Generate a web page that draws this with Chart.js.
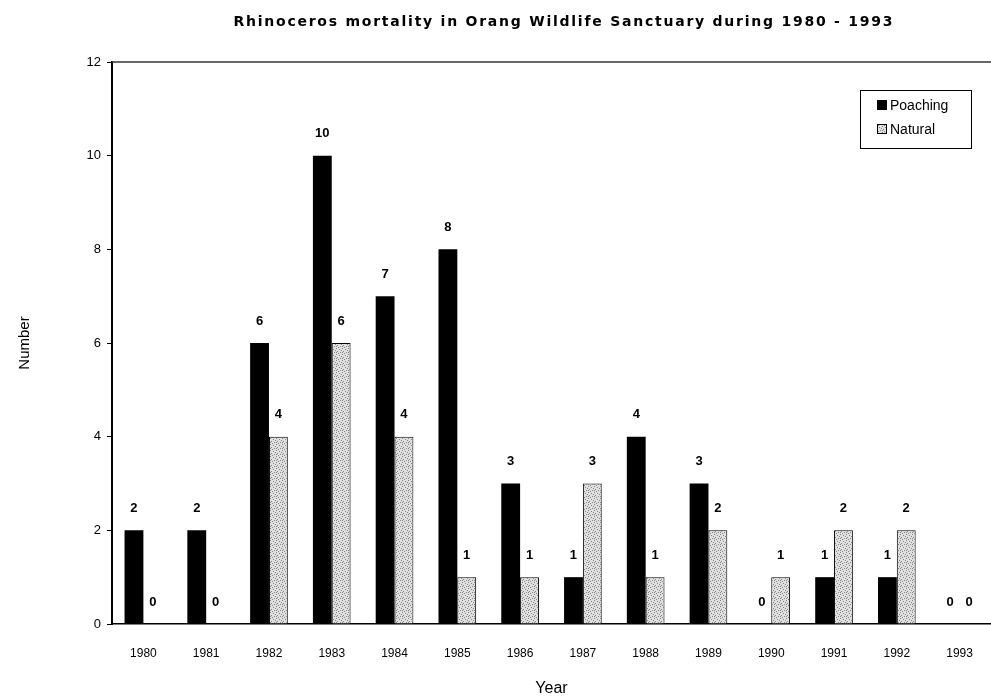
<!DOCTYPE html>
<html>
<head>
<meta charset="utf-8">
<title>Rhinoceros mortality</title>
<script src="https://cdn.jsdelivr.net/npm/chart.js@4.4.1/dist/chart.umd.min.js"></script>
<style>
  html, body { margin: 0; padding: 0; background: #fff; }
  #wrap { width: 991px; height: 700px; }
</style>
</head>
<body>
<div id="wrap"><canvas id="mortalityChart" width="991" height="700"></canvas></div>
<script>
  // ── Data ────────────────────────────────────────────────────────────────
  const years    = ['1980', '1981', '1982', '1983', '1984', '1985', '1986',
                    '1987', '1988', '1989', '1990', '1991', '1992', '1993'];
  const poaching = [2, 2, 6, 10, 7, 8, 3, 1, 4, 3, 0, 1, 1, 0];
  const natural  = [0, 0, 4, 6, 4, 1, 1, 3, 1, 2, 1, 2, 2, 0];
  const yTicks   = [0, 2, 4, 6, 8, 10, 12];

  const TITLE = 'Rhinoceros mortality in Orang Wildlife Sanctuary during 1980 - 1993';
  const FONT  = "'Liberation Sans', Arial, sans-serif";
  const TITLE_FONT = "'DejaVu Sans', Verdana, sans-serif";

  // stippled light grey fill for the natural bars
  function makeStipple() {
    const p = document.createElement('canvas');
    p.width = 6; p.height = 6;
    const g = p.getContext('2d');
    g.fillStyle = '#e0e0e0';
    g.fillRect(0, 0, 6, 6);
    g.fillStyle = '#858585';
    [[0, 0], [3, 1], [1, 3], [4, 4], [5, 2], [2, 5], [0, 4]].forEach(([x, y]) => g.fillRect(x, y, 1, 1));
    return g.createPattern(p, 'repeat');
  }
  const stipple = makeStipple();

  // ── Plugins: title, frame line, value labels, legend box ───────────────
  const decorations = {
    id: 'decorations',
    afterDraw(chart) {
      const ctx = chart.ctx;
      const area = chart.chartArea;
      ctx.save();

      // title, spaced out to span 232..893
      ctx.fillStyle = '#000';
      ctx.font = `bold 14px ${TITLE_FONT}`;
      ctx.textAlign = 'center';
      ctx.textBaseline = 'middle';
      const plain = ctx.measureText(TITLE).width;
      const spacing = Math.max(0, (661 - plain) / TITLE.length);
      ctx.letterSpacing = spacing.toFixed(2) + 'px';
      ctx.fillText(TITLE, 563 + spacing / 2, 22);
      ctx.letterSpacing = '0px';

      // top frame line
      ctx.strokeStyle = '#333';
      ctx.lineWidth = 1.5;
      ctx.beginPath();
      ctx.moveTo(area.left, area.top);
      ctx.lineTo(chart.width, area.top);
      ctx.stroke();

      // value labels over each bar
      ctx.font = `bold 13px ${FONT}`;
      ctx.fillStyle = '#000';
      chart.data.datasets.forEach((ds, di) => {
        chart.getDatasetMeta(di).data.forEach((bar, i) => {
          ctx.fillText(String(ds.data[i]), bar.x, bar.y - 22);
        });
      });

      // legend box
      const lx = 860, ly = 90, lw = 111, lh = 58;
      ctx.fillStyle = '#fff';
      ctx.fillRect(lx, ly, lw, lh);
      ctx.strokeStyle = '#000';
      ctx.lineWidth = 1;
      ctx.strokeRect(lx + 0.5, ly + 0.5, lw, lh);
      ctx.font = `14px ${FONT}`;
      ctx.textAlign = 'left';
      const items = [
        { label: chart.data.datasets[0].label, fill: '#000' },
        { label: chart.data.datasets[1].label, fill: stipple }
      ];
      items.forEach((it, k) => {
        const cy = ly + 15 + k * 24;
        ctx.fillStyle = it.fill;
        ctx.fillRect(lx + 17, cy - 5, 10, 10);
        ctx.strokeStyle = '#000';
        ctx.strokeRect(lx + 17.5, cy - 4.5, 9, 9);
        ctx.fillStyle = '#000';
        ctx.fillText(it.label, lx + 30, cy + 1);
      });

      ctx.restore();
    }
  };

  // ── Chart ──────────────────────────────────────────────────────────────
  new Chart(document.getElementById('mortalityChart'), {
    type: 'bar',
    data: {
      labels: years,
      datasets: [
        {
          label: 'Poaching',
          data: poaching,
          backgroundColor: '#000',
          borderWidth: 0,
          categoryPercentage: 0.6,
          barPercentage: 1.0
        },
        {
          label: 'Natural',
          data: natural,
          backgroundColor: stipple,
          borderColor: '#000',
          borderWidth: 1,
          borderSkipped: 'bottom',
          categoryPercentage: 0.6,
          barPercentage: 1.0
        }
      ]
    },
    options: {
      responsive: false,
      animation: false,
      layout: { padding: { top: 62, right: 0, left: 0, bottom: 0 } },
      plugins: {
        legend: { display: false },
        title: { display: false },
        tooltip: { enabled: false }
      },
      scales: {
        x: {
          grid: { display: false },
          border: { display: true, color: '#000', width: 1.5 },
          ticks: { color: '#000', font: { family: FONT, size: 12 }, padding: 14, maxRotation: 0 },
          title: {
            display: true, text: 'Year', color: '#000',
            font: { family: FONT, size: 16 }, padding: { top: 0, bottom: 2 }
          },
          afterFit(scale) { scale.height = 76; }
        },
        y: {
          min: 0,
          max: 12,
          afterBuildTicks(scale) { scale.ticks = yTicks.map(v => ({ value: v })); },
          grid: { drawOnChartArea: false, drawTicks: true, tickLength: 5, color: '#000' },
          border: { display: true, color: '#000', width: 2 },
          ticks: { color: '#000', font: { family: FONT, size: 13 }, padding: 6 },
          title: {
            display: true, text: 'Number', color: '#000',
            font: { family: FONT, size: 15 }, padding: 16
          },
          afterFit(scale) { scale.width = 112; }
        }
      }
    },
    plugins: [decorations]
  });
</script>
</body>
</html>
